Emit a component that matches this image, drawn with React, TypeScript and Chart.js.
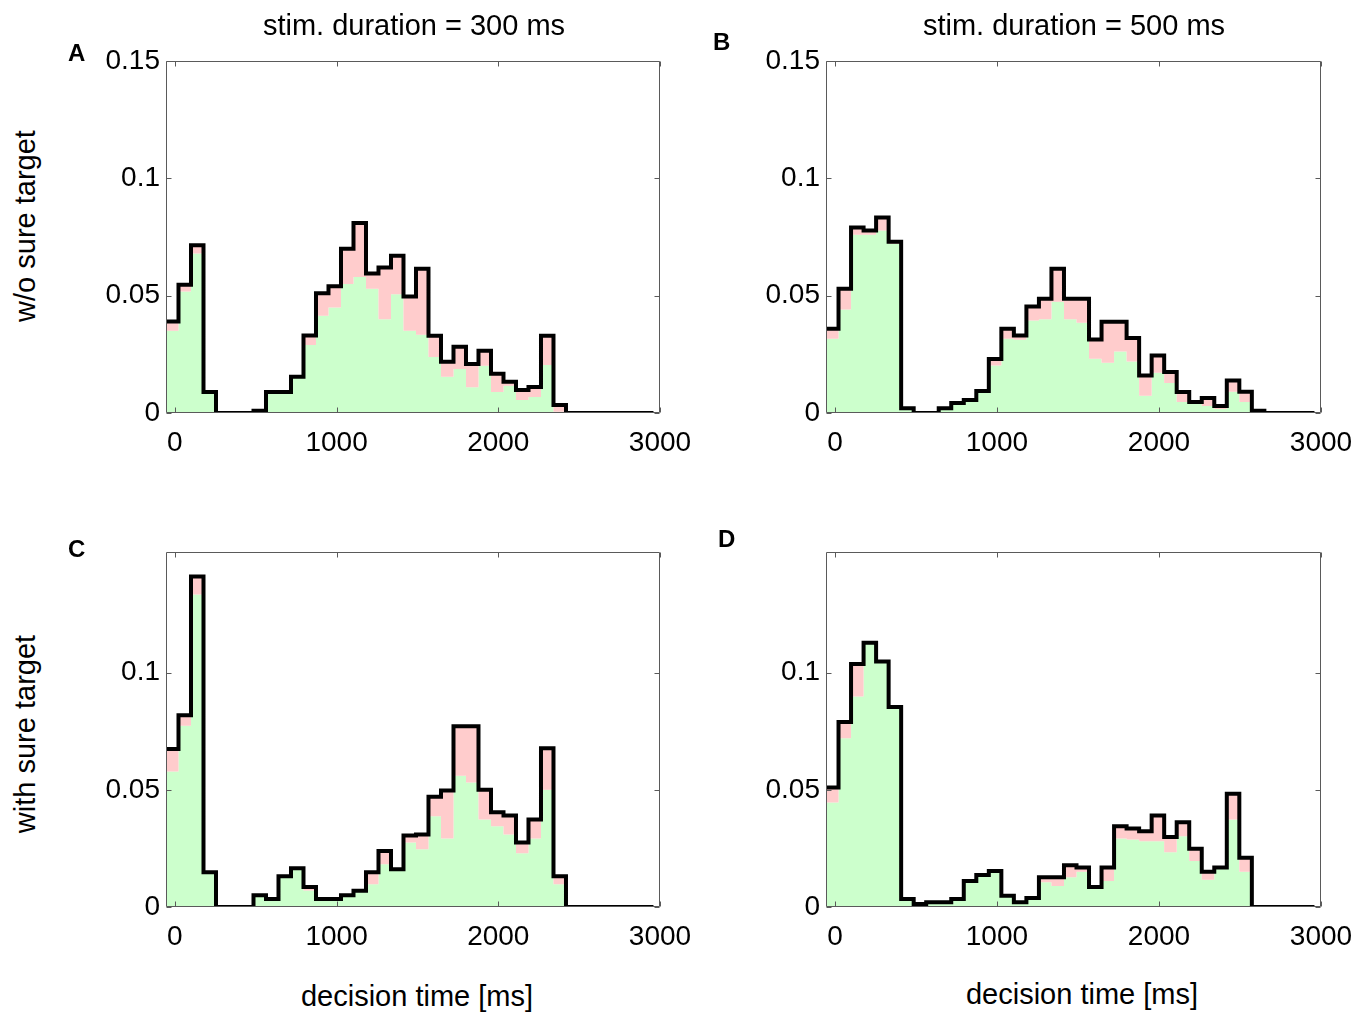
import React, { useEffect, useRef } from "react";
import { Chart, registerables } from "chart.js";

Chart.register(...registerables);

// ---------- data ----------
const X_MIN = -55;
const X_MAX = 3000;
const BIN_START = -55; // ms, left edge of first bin
const BIN_WIDTH = 77.3; // ms
const X_TICKS = [0, 1000, 2000, 3000];
const Y_TICKS_TOP = [0, 0.05, 0.1, 0.15];
const Y_TICKS_BOTTOM = [0, 0.05, 0.1];
const Y_MAX_TOP = 0.15;
const Y_MAX_BOTTOM = 0.1515;

const COLUMN_TITLES = ["stim. duration = 300 ms", "stim. duration = 500 ms"];
const ROW_TITLES = ["w/o sure target", "with sure target"];
const X_TITLE = "decision time [ms]";
const PANEL_LETTERS = ["A", "B", "C", "D"];

// Panel A: stim 300 ms, w/o sure target (total height and green part)
const totalA = [0.039, 0.0547, 0.0715, 0.009, 0, 0, 0, 0.001, 0.009, 0.009, 0.0154, 0.033, 0.051, 0.054, 0.07, 0.081, 0.0594, 0.062, 0.067, 0.0496, 0.0615, 0.0329, 0.0218, 0.0282, 0.0209, 0.0265, 0.0167, 0.0133, 0.0098, 0.0111, 0.0329, 0.0034, 0, 0, 0, 0, 0, 0, 0];
const greenA = [0.035, 0.0518, 0.068, 0.009, 0, 0, 0, 0.001, 0.009, 0.009, 0.0154, 0.029, 0.0414, 0.045, 0.055, 0.058, 0.053, 0.04, 0.0506, 0.035, 0.0333, 0.0239, 0.0154, 0.0188, 0.011, 0.0201, 0.009, 0.0116, 0.0055, 0.0068, 0.0205, 0.0005, 0, 0, 0, 0, 0, 0, 0];

// Panel B: stim 500 ms, w/o sure target
const totalB = [0.0359, 0.053, 0.079, 0.0778, 0.0833, 0.073, 0.002, 0, 0, 0.002, 0.0043, 0.0055, 0.0094, 0.023, 0.0359, 0.033, 0.0454, 0.0487, 0.0615, 0.0487, 0.0487, 0.0313, 0.0389, 0.0389, 0.032, 0.016, 0.0245, 0.0175, 0.009, 0.0047, 0.0064, 0.003, 0.0138, 0.0091, 0.001, 0, 0, 0, 0];
const greenB = [0.0316, 0.0441, 0.076, 0.076, 0.0778, 0.072, 0.002, 0, 0, 0.002, 0.0043, 0.0055, 0.0094, 0.0202, 0.0316, 0.0312, 0.0394, 0.0399, 0.0474, 0.0399, 0.0385, 0.0231, 0.0214, 0.0262, 0.0219, 0.0074, 0.0171, 0.0128, 0.0047, 0.004, 0.003, 0.0017, 0.0091, 0.0047, 0.001, 0, 0, 0, 0];

// Panel C: stim 300 ms, with sure target
const totalC = [0.0674, 0.0818, 0.141, 0.0148, 0, 0, 0, 0.005, 0.0034, 0.0131, 0.0165, 0.0085, 0.0034, 0.0034, 0.005, 0.0069, 0.0148, 0.0239, 0.0161, 0.0305, 0.0309, 0.047, 0.0497, 0.0771, 0.0771, 0.05, 0.0404, 0.039, 0.0275, 0.0373, 0.0678, 0.0131, 0, 0, 0, 0, 0, 0, 0];
const greenC = [0.0578, 0.0773, 0.1334, 0.0148, 0, 0, 0, 0.005, 0.0034, 0.0131, 0.016, 0.007, 0.0034, 0.0034, 0.005, 0.0069, 0.0097, 0.0182, 0.0161, 0.0275, 0.0246, 0.0387, 0.0292, 0.056, 0.0531, 0.0373, 0.0345, 0.0309, 0.0229, 0.0292, 0.05, 0.0097, 0, 0, 0, 0, 0, 0, 0];

// Panel D: stim 500 ms, with sure target
const totalD = [0.051, 0.0789, 0.1037, 0.1128, 0.1048, 0.0853, 0.0034, 0.0013, 0.002, 0.002, 0.0034, 0.0111, 0.0137, 0.0154, 0.0048, 0.002, 0.0038, 0.0127, 0.0127, 0.0178, 0.0169, 0.0085, 0.0169, 0.0345, 0.0335, 0.0323, 0.039, 0.0299, 0.0362, 0.0249, 0.015, 0.0169, 0.0483, 0.021, 0, 0, 0, 0, 0];
const greenD = [0.0446, 0.072, 0.0898, 0.1128, 0.1048, 0.0853, 0.0034, 0.0013, 0.002, 0.002, 0.0034, 0.0111, 0.0137, 0.0154, 0.0048, 0.002, 0.0038, 0.0106, 0.009, 0.0127, 0.015, 0.0085, 0.0111, 0.0292, 0.0288, 0.0281, 0.0281, 0.0234, 0.0302, 0.0196, 0.0116, 0.0169, 0.0373, 0.015, 0, 0, 0, 0, 0];

// ---------- styling ----------
const FONT = '"Liberation Sans", Arial, Helvetica, sans-serif';
const GREEN = "#ccffcc";
const PINK = "#ffcccc";
const FRAME = "#5a5a5a";

type Panel = {
  total: number[];
  green: number[];
  yMax: number;
  yTicks: number[];
  left: number; // chart area left (page px)
  top: number;
  right: number;
  bottom: number;
};

const PAD_TOP = 30;
const PAD_RIGHT = 55;
const Y_AXIS_W = 110;
const X_AXIS_H = 50;

const panels: Panel[] = [
  { total: totalA, green: greenA, yMax: Y_MAX_TOP, yTicks: Y_TICKS_TOP, left: 166, top: 61, right: 660, bottom: 413 },
  { total: totalB, green: greenB, yMax: Y_MAX_TOP, yTicks: Y_TICKS_TOP, left: 826, top: 61, right: 1321, bottom: 413 },
  { total: totalC, green: greenC, yMax: Y_MAX_BOTTOM, yTicks: Y_TICKS_BOTTOM, left: 166, top: 552, right: 660, bottom: 907 },
  { total: totalD, green: greenD, yMax: Y_MAX_BOTTOM, yTicks: Y_TICKS_BOTTOM, left: 826, top: 552, right: 1321, bottom: 907 },
];

// point i sits at the left edge of bin i; 'before' stepping holds y_i across [edge_i, edge_i+1]
function stepPoints(values: number[]) {
  const pts = values.map((v, i) => ({ x: BIN_START + i * BIN_WIDTH, y: v }));
  pts.push({ x: BIN_START + values.length * BIN_WIDTH, y: values[values.length - 1] });
  return pts;
}

const framePlugin = {
  id: "matlabFrame",
  afterDraw(chart: any) {
    const { ctx, chartArea } = chart;
    const { left, top, right, bottom } = chartArea;
    const xs = chart.scales.x;
    const ys = chart.scales.y;
    const L = Math.round(left) + 0.5;
    const R = Math.round(right) - 0.5;
    const T = Math.round(top) + 0.5;
    const B = Math.round(bottom) - 0.5;
    const tl = 5;
    ctx.save();
    ctx.strokeStyle = FRAME;
    ctx.lineWidth = 1;
    ctx.beginPath();
    ctx.rect(L, T, R - L, B - T);
    xs.ticks.forEach((t: any) => {
      const px = Math.round(xs.getPixelForValue(t.value)) + 0.5;
      ctx.moveTo(px, B);
      ctx.lineTo(px, B - tl);
      ctx.moveTo(px, T);
      ctx.lineTo(px, T + tl);
    });
    ys.ticks.forEach((t: any) => {
      const py = Math.round(ys.getPixelForValue(t.value)) + 0.5;
      ctx.moveTo(L, py);
      ctx.lineTo(L + tl, py);
      ctx.moveTo(R, py);
      ctx.lineTo(R - tl, py);
    });
    ctx.stroke();
    ctx.restore();
  },
};

function PanelChart({ p }: { p: Panel }) {
  const ref = useRef<HTMLCanvasElement | null>(null);
  const canvasLeft = p.left - Y_AXIS_W;
  const canvasTop = p.top - PAD_TOP;
  const width = p.right + PAD_RIGHT - canvasLeft;
  const height = p.bottom + X_AXIS_H - canvasTop;

  useEffect(() => {
    if (!ref.current) return;
    const chart = new Chart(ref.current, {
      type: "line",
      data: {
        datasets: [
          {
            data: stepPoints(p.green),
            stepped: "before",
            fill: "origin",
            backgroundColor: GREEN,
            borderColor: "rgba(0,0,0,0)",
            borderWidth: 0,
            pointRadius: 0,
            order: 3,
          },
          {
            data: stepPoints(p.total),
            stepped: "before",
            fill: "-1",
            backgroundColor: PINK,
            borderColor: "rgba(0,0,0,0)",
            borderWidth: 0,
            pointRadius: 0,
            order: 2,
          },
          {
            data: stepPoints(p.total),
            stepped: "before",
            fill: false,
            borderColor: "#000000",
            borderWidth: 4,
            borderJoinStyle: "miter",
            borderCapStyle: "butt",
            pointRadius: 0,
            order: 1,
          },
        ],
      } as any,
      options: {
        responsive: false,
        animation: false,
        events: [],
        layout: { padding: { left: 0, top: PAD_TOP, right: PAD_RIGHT, bottom: 0 } },
        plugins: { legend: { display: false }, tooltip: { enabled: false } },
        scales: {
          x: {
            type: "linear",
            min: X_MIN,
            max: X_MAX,
            grid: { display: false, drawTicks: false },
            border: { display: false },
            ticks: {
              font: { family: FONT, size: 28 },
              color: "#000",
              padding: 13,
              maxRotation: 0,
              autoSkip: false,
              callback: (v: any) => String(v),
            },
            afterBuildTicks: (s: any) => {
              s.ticks = X_TICKS.map((v) => ({ value: v }));
            },
            afterFit: (s: any) => {
              s.height = X_AXIS_H;
            },
          },
          y: {
            type: "linear",
            min: 0,
            max: p.yMax,
            grid: { display: false, drawTicks: false },
            border: { display: false },
            ticks: {
              font: { family: FONT, size: 28 },
              color: "#000",
              padding: 6,
              autoSkip: false,
              callback: (v: any) => String(v),
            },
            afterBuildTicks: (s: any) => {
              s.ticks = p.yTicks.map((v) => ({ value: v }));
            },
            afterFit: (s: any) => {
              s.width = Y_AXIS_W;
            },
          },
        },
      } as any,
      plugins: [framePlugin],
    });
    return () => chart.destroy();
  }, [p]);

  return (
    <canvas
      ref={ref}
      width={width}
      height={height}
      style={{ position: "absolute", left: canvasLeft, top: canvasTop, width, height }}
    />
  );
}

function Label({ text, cx, baseline, size = 29 }: { text: string; cx: number; baseline: number; size?: number }) {
  return (
    <div
      style={{
        position: "absolute",
        left: cx - 250,
        width: 500,
        top: baseline - 27,
        lineHeight: "34px",
        fontSize: size,
        fontFamily: FONT,
        textAlign: "center",
        color: "#000",
        whiteSpace: "nowrap",
      }}
    >
      {text}
    </div>
  );
}

function RotLabel({ text, cx, cy }: { text: string; cx: number; cy: number }) {
  return (
    <div
      style={{
        position: "absolute",
        left: cx - 150,
        top: cy - 17,
        width: 300,
        height: 34,
        lineHeight: "34px",
        fontSize: 29,
        fontFamily: FONT,
        textAlign: "center",
        color: "#000",
        whiteSpace: "nowrap",
        transform: "rotate(-90deg)",
        transformOrigin: "50% 50%",
      }}
    >
      {text}
    </div>
  );
}

function Letter({ text, x, cy }: { text: string; x: number; cy: number }) {
  return (
    <div
      style={{
        position: "absolute",
        left: x - 1,
        top: cy - 14,
        lineHeight: "28px",
        fontSize: 24,
        fontWeight: "bold",
        fontFamily: FONT,
        color: "#000",
      }}
    >
      {text}
    </div>
  );
}

export default function App() {
  return (
    <div
      style={{
        position: "absolute",
        left: 0,
        top: 0,
        width: 1370,
        height: 1014,
        background: "#ffffff",
        overflow: "hidden",
      }}
    >
      {panels.map((p, i) => (
        <PanelChart key={i} p={p} />
      ))}
      <Label text={COLUMN_TITLES[0]} cx={414} baseline={35} />
      <Label text={COLUMN_TITLES[1]} cx={1074} baseline={35} />
      <Label text={X_TITLE} cx={417} baseline={1006} />
      <Label text={X_TITLE} cx={1082} baseline={1004} />
      <RotLabel text={ROW_TITLES[0]} cx={25} cy={226} />
      <RotLabel text={ROW_TITLES[1]} cx={25} cy={734} />
      <Letter text={PANEL_LETTERS[0]} x={69} cy={53} />
      <Letter text={PANEL_LETTERS[1]} x={714} cy={42} />
      <Letter text={PANEL_LETTERS[2]} x={69} cy={549} />
      <Letter text={PANEL_LETTERS[3]} x={719} cy={539} />
    </div>
  );
}
